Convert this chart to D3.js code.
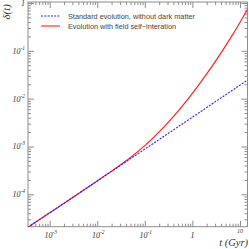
<!DOCTYPE html>
<html>
<head>
<meta charset="utf-8">
<script src="https://cdn.jsdelivr.net/npm/d3@7"></script>
<style>
body { margin: 0; background: #fff; }
.lab { font-family: 'Liberation Serif', 'DejaVu Serif', serif; font-style: italic; fill: #333; }
.leg { font-family: 'Liberation Sans', 'DejaVu Sans', sans-serif; fill: #444; font-size: 7.3px; }
</style>
</head>
<body>
<div class="chart"></div>
<script>
// time in Gyr, density contrast delta(t)
var tStandard = [3.5e-4, 1e-3, 1e-2, 1e-1, 1, 14.4];
var dStandard = [2.05e-5, 4.1e-5, 1.9e-4, 8.8e-4, 4.1e-3, 0.0245];

var tField = [3.5e-4, 1e-3, 1e-2, 0.02, 0.03, 0.05, 0.1, 0.2, 0.3, 0.5, 1, 2, 3, 6, 10, 14.4];
var dField = [2.05e-5, 4.1e-5, 1.9e-4, 3.05e-4, 4.05e-4, 5.9e-4, 1.04e-3, 2.02e-3, 3.09e-3, 5.5e-3, 0.0129, 0.0329, 0.0588, 0.169, 0.392, 0.74];

var seriesNames = ['Standard evolution, without dark matter', 'Evolution with field self\u2212interation'];

var xMajor = [1e-3, 1e-2, 1e-1, 1, 10];
var xMajorLabels = [['10', '-3'], ['10', '-2'], ['10', '-1'], ['1', ''], ['10', '']];
var yMajor = [1e-4, 1e-3, 1e-2, 1e-1, 1];
var yMajorLabels = [['10', '-4'], ['10', '-3'], ['10', '-2'], ['10', '-1'], ['1', '']];

var W = 249, H = 249;
var plot = { left: 28, right: 247.5, top: 2, bottom: 226.7 };

var svg = d3.select('.chart')
    .append('svg')
    .attr('width', W)
    .attr('height', H);

var x = d3.scaleLog().domain([3.5e-4, 14.4]).range([plot.left, plot.right]);
var y = d3.scaleLog().domain([2.1e-5, 1.05]).range([plot.bottom, plot.top]);

// minor ticks = every 1..9 * 10^n inside the domain
function logTicks(scale) {
    return scale.ticks().filter(function (v) {
        var d = scale.domain();
        return v >= d[0] && v <= d[1];
    });
}
function isMajor(v) {
    var l = Math.log10(v);
    return Math.abs(l - Math.round(l)) < 1e-6;
}

var pw = plot.right - plot.left, ph = plot.bottom - plot.top;

function drawAxis(axisFn, scale, transform) {
    var g = svg.append('g').attr('transform', transform);
    g.call(axisFn(scale).tickValues(logTicks(scale)).tickFormat('').tickSizeOuter(0));
    g.select('.domain').remove();
    g.selectAll('.tick line')
        .attr('stroke', '#8c8c8c')
        .each(function (d) {
            var len = isMajor(d) ? 6 : 3;
            var el = d3.select(this);
            if (el.attr('y2') !== null && +el.attr('y2') !== 0) el.attr('y2', +el.attr('y2') > 0 ? len : -len);
            if (el.attr('x2') !== null && +el.attr('x2') !== 0) el.attr('x2', +el.attr('x2') > 0 ? len : -len);
        });
}

// inward ticks on all four sides
drawAxis(function (s) { return d3.axisTop(s); }, x, `translate(0, ${plot.bottom})`);
drawAxis(function (s) { return d3.axisBottom(s); }, x, `translate(0, ${plot.top})`);
drawAxis(function (s) { return d3.axisRight(s); }, y, `translate(${plot.left}, 0)`);
drawAxis(function (s) { return d3.axisLeft(s); }, y, `translate(${plot.right}, 0)`);

svg.append('rect')
    .attr('x', plot.left).attr('y', plot.top)
    .attr('width', pw).attr('height', ph)
    .attr('fill', 'none')
    .attr('stroke', '#8c8c8c')
    .attr('stroke-width', 1);

// x tick labels
xMajor.forEach(function (v, i) {
    var lab = xMajorLabels[i];
    var last = i === xMajor.length - 1;
    var t = svg.append('text').attr('class', 'lab')
        .attr('x', x(v) + (lab[1] ? 1 : 0))
        .attr('y', last ? 233 : 238)
        .attr('text-anchor', 'middle')
        .style('font-size', last ? '6px' : '8px');
    t.append('tspan').text(lab[0]);
    if (lab[1]) t.append('tspan').attr('dy', -4).style('font-size', '5.5px').text(lab[1]);
});

// y tick labels
yMajor.forEach(function (v, i) {
    var lab = yMajorLabels[i];
    var t = svg.append('text').attr('class', 'lab')
        .attr('x', 25)
        .attr('y', y(v) + 3)
        .attr('text-anchor', 'end')
        .style('font-size', '8px');
    t.append('tspan').text(lab[0]);
    if (lab[1]) t.append('tspan').attr('dy', -4).style('font-size', '5.5px').text(lab[1]);
});

// axis titles
svg.append('text').attr('class', 'lab')
    .attr('x', 248).attr('y', 246)
    .attr('text-anchor', 'end')
    .style('font-size', '10.5px')
    .text('t (Gyr)');

svg.append('text').attr('class', 'lab')
    .attr('transform', 'translate(10, 4) rotate(-90)')
    .attr('text-anchor', 'end')
    .style('font-size', '11px')
    .text('\u03b4(t)');

var line = d3.line()
    .x(d => x(d[0]))
    .y(d => y(d[1]))
    .curve(d3.curveMonotoneX);

var standard = tStandard.map((t, i) => [t, dStandard[i]]);
var field = tField.map((t, i) => [t, dField[i]]);

svg.append('clipPath').attr('id', 'clip')
    .append('rect')
    .attr('x', plot.left).attr('y', plot.top)
    .attr('width', pw).attr('height', ph);

svg.append('path')
    .attr('d', line(field))
    .attr('clip-path', 'url(#clip)')
    .style('stroke', '#ff2020')
    .style('stroke-width', 1.2)
    .style('fill', 'none');

svg.append('path')
    .attr('d', line(standard))
    .attr('clip-path', 'url(#clip)')
    .style('stroke', '#2020ff')
    .style('stroke-width', 1.1)
    .style('stroke-dasharray', '2,1.3')
    .style('fill', 'none');

// legend
var legend = [
    { name: seriesNames[0], color: '#2020ff', dash: '2,1.3', y: 16 },
    { name: seriesNames[1], color: '#ff2020', dash: null, y: 26 }
];
legend.forEach(function (d) {
    svg.append('line')
        .attr('x1', 41).attr('x2', 60)
        .attr('y1', d.y).attr('y2', d.y)
        .style('stroke', d.color)
        .style('stroke-width', 1.1)
        .style('stroke-dasharray', d.dash);
    svg.append('text').attr('class', 'leg')
        .attr('x', 68).attr('y', d.y + 2.5)
        .text(d.name);
});
</script>
</body>
</html>
